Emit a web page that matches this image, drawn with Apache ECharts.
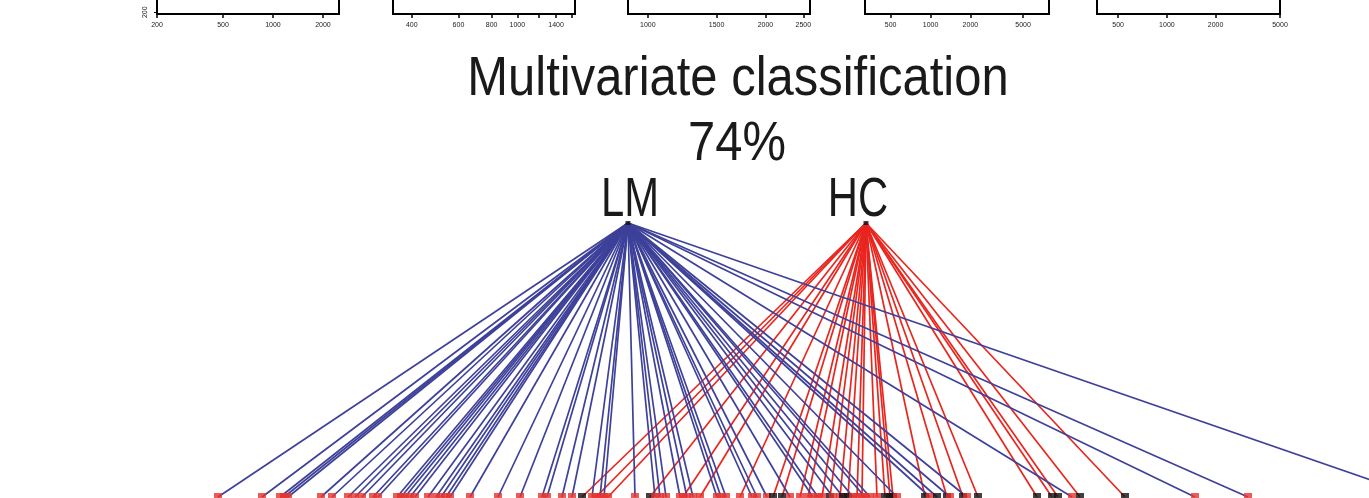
<!DOCTYPE html>
<html>
<head>
<meta charset="utf-8">
<script src="https://cdn.jsdelivr.net/npm/echarts@6/dist/echarts.min.js"></script>
<style>
  html, body { margin: 0; padding: 0; background: #fff; }
  #main { width: 1369px; height: 498px; }
</style>
</head>
<body>
<div id="main"></div>
<script>
// class nodes (top) and their place on the horizontal layout axis
var classNames = ['LM', 'HC'];
var classX = [628, 866];
var labelShift = [2, -8];

// samples along the bottom row
var sampleX = [
  218, 262, 280, 284, 288, 321, 332, 348, 355, 362,
  373, 378, 397, 401, 405, 410, 415, 428, 436, 441,
  446, 450, 470, 498, 520, 542, 547, 562, 572, 582,
  592, 596, 600, 604, 608, 635, 650, 655, 660, 666,
  680, 683, 687, 693, 700, 717, 721, 726, 740, 752,
  757, 767, 773, 782, 790, 800, 808, 813, 818, 822,
  830, 833, 840, 843, 848, 853, 857, 862, 865, 870,
  877, 885, 890, 893, 897, 925, 930, 937, 947, 950,
  963, 967, 978, 1037, 1052, 1058, 1072, 1080, 1125, 1195,
  1248, 1420
];
// true group: L = LM (red square), H = HC (black square)
var trueClass = [
  'LLLLLLLLLL', 'LLLLLLLLLL', 'LLLLLLLLLH', 'LLLLLLHLLL', 'LLLLLLLLLL',
  'LLHHLLLLLL', 'HLLHHLLLLL', 'LHHHLHLHHL', 'HLHHHHLHHL', 'LL'
].join('').split('');
// predicted group: line comes from LM (blue) or HC (red)
var predClass = [
  'LLLLLLLLLL', 'LLLLLLLLLL', 'LLLLLLLLLH', 'LHLLHLHLLL', 'LHLLHLLLHL',
  'LLHHLHHLLH', 'HLHLHLHHLL', 'HHHHLHLLHL', 'HLHHHHLHHL', 'LL'
].join('').split('');

// small panels above (only their x axes are visible)
var panelMin = [200, 340, 890, 320, 370];
var panelMax = [2500, 1650, 2600, 7850, 5000];
var panelTicks = [
  [200, 500, 1000, 2000],
  [400, 600, 800, 1000, 1200, 1400, 1600],
  [1000, 1500, 2000, 2500],
  [500, 1000, 2000, 5000],
  [500, 1000, 2000, 5000]
];
var panelLabels = [
  [200, 500, 1000, 2000],
  [400, 600, 800, 1000, 1400],
  [1000, 1500, 2000, 2500],
  [500, 1000, 2000, 5000],
  [500, 1000, 2000, 5000]
];
var panelLeft = [157, 393, 628, 865, 1097];
var panelWidth = [182, 182, 182, 184, 183];

var BLUE = '#3e4199';
var RED = '#e8261f';
var TXT = '#1a1a1a';
var BIGFONT = '55px "Liberation Sans", Arial, sans-serif';

var myChart = echarts.init(document.getElementById('main'), null, { renderer: 'canvas' });

var grids = [];
var xAxes = [];
var yAxes = [];
var series = [];

// main graph grid
grids.push({ left: 0, right: 0, top: 223, bottom: 1, outerBoundsMode: 'none', containLabel: false });
xAxes.push({ gridIndex: 0, type: 'value', min: 0, max: 1369, show: false });
yAxes.push({ gridIndex: 0, type: 'value', min: 0, max: 1, show: false });

function lg(v) { return Math.log(v) / Math.LN10; }

for (var p = 0; p < panelMin.length; p++) {
  grids.push({
    left: panelLeft[p], width: panelWidth[p], top: -60, height: 74,
    outerBoundsMode: 'none', containLabel: false,
    show: true, borderColor: '#000', borderWidth: 2, backgroundColor: '#fff'
  });
  xAxes.push({
    gridIndex: p + 1, type: 'value',
    min: lg(panelMin[p]), max: lg(panelMax[p]),
    splitLine: { show: false },
    axisLine: { show: false },
    axisTick: { show: true, length: 4, lineStyle: { color: '#000', width: 1.5 },
      customValues: panelTicks[p].map(lg) },
    axisLabel: { show: true, fontSize: 7, color: '#222', margin: 8,
      fontFamily: 'Liberation Sans, Arial, sans-serif',
      customValues: panelLabels[p].map(lg),
      formatter: function (v) { return String(Math.round(Math.pow(10, v))); } }
  });
  yAxes.push({
    gridIndex: p + 1, type: 'value', min: 195, max: 400,
    show: p === 0,
    splitLine: { show: false },
    axisLine: { show: false },
    axisTick: { show: p === 0, length: 3, customValues: [200], lineStyle: { color: '#000' } },
    axisLabel: { show: p === 0, rotate: 90, fontSize: 7, color: '#222', margin: 8,
      customValues: [200], fontFamily: 'Liberation Sans, Arial, sans-serif' }
  });
}

// connecting lines, one per sample, in sample order
var lineData = [];
for (var i = 0; i < sampleX.length; i++) {
  var k = predClass[i] === 'L' ? 0 : 1;
  lineData.push({
    coords: [[classX[k], 1], [sampleX[i], 0]],
    lineStyle: { color: k === 0 ? BLUE : RED }
  });
}
series.push({
  type: 'lines', coordinateSystem: 'cartesian2d', xAxisIndex: 0, yAxisIndex: 0,
  data: lineData, lineStyle: { width: 1.7, opacity: 1 }, silent: true, z: 2
});

// bottom sample markers
series.push({
  type: 'scatter', xAxisIndex: 0, yAxisIndex: 0, symbol: 'rect', symbolSize: 8,
  data: sampleX.map(function (x, i) {
    return { value: [x, 0], itemStyle: { color: trueClass[i] === 'L' ? '#e6332e' : '#111' } };
  }),
  z: 3, silent: true
});

// class nodes
series.push({
  type: 'scatter', xAxisIndex: 0, yAxisIndex: 0, symbol: 'rect', symbolSize: [5, 4],
  itemStyle: { color: '#111' },
  data: classNames.map(function (n, i) { return { name: n, value: [classX[i], 1] }; }),
  z: 4, silent: true
});

var option = {
  backgroundColor: '#fff',
  animation: false,
  grid: grids,
  xAxis: xAxes,
  yAxis: yAxes,
  series: series
};

myChart.setOption(option);

// headings, squeezed a little to look like the condensed original
var texts = [
  { type: 'text', x: 738, y: 80, scaleX: 0.89,
    style: { text: 'Multivariate classification', font: BIGFONT, fill: TXT,
      textAlign: 'center', textVerticalAlign: 'middle' } },
  { type: 'text', x: 737, y: 145, scaleX: 0.89,
    style: { text: '74%', font: BIGFONT, fill: TXT,
      textAlign: 'center', textVerticalAlign: 'middle' } }
];
// class names above their nodes
classNames.forEach(function (n, i) {
  var pt = myChart.convertToPixel({ gridIndex: 0 }, [classX[i], 1]);
  texts.push({ type: 'text', x: pt[0] + labelShift[i], y: pt[1] - 22, scaleX: 0.76,
    style: { text: n, font: BIGFONT, fill: TXT, textAlign: 'center', textVerticalAlign: 'middle' } });
});
myChart.setOption({ graphic: texts });
</script>
</body>
</html>
